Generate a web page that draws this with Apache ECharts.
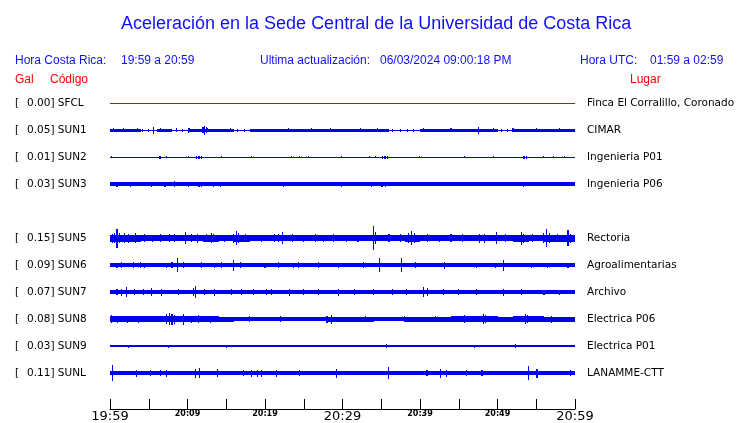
<!DOCTYPE html>
<html>
<head>
<meta charset="utf-8">
<script src="https://cdn.jsdelivr.net/npm/echarts@6/dist/echarts.min.js"></script>
<style>
  html, body { margin: 0; padding: 0; background: #fff; }
  #chart { width: 740px; height: 423px; }
</style>
</head>
<body>
<div id="chart"></div>
<script>
// estaciones (orden de arriba hacia abajo; SUN4 no aparece)
const codes  = ['SFCL', 'SUN1', 'SUN2', 'SUN3', 'SUN5', 'SUN6', 'SUN7', 'SUN8', 'SUN9', 'SUNL'];
const gals   = [0.00, 0.05, 0.01, 0.03, 0.15, 0.09, 0.07, 0.08, 0.03, 0.11];
const places = ['Finca El Corralillo, Coronado', 'CIMAR', 'Ingenieria P01', 'Ingenieria P06',
                'Rectoria', 'Agroalimentarias', 'Archivo', 'Electrica P06', 'Electrica P01', 'LANAMME-CTT'];
const slots  = [0, 1, 2, 3, 5, 6, 7, 8, 9, 10];

// eje de tiempo: minutos desde 19:59
const tickLabels = ['19:59', '20:09', '20:19', '20:29', '20:39', '20:49', '20:59'];

// envolvente base, bloques de 2 minutos (semi-amplitud)
const baseSFCL = [0.5,0.5,0.5,0.5,0.5,0.5,0.5,0.5,0.5,0.5,0.5,0.5,0.5,0.5,0.5,0.5,0.5,0.5,0.5,0.5,0.5,0.5,0.5,0.5,0.5,0.5,0.5,0.5,0.5,0.5];
const baseSUN1 = [1.5,1.5,0.5,1.5,0.5,1.5,1.5,1.5,0.5,1.5,1.5,1.5,1.5,1.5,1.5,1.5,1.5,1.5,0.5,0.5,1.5,1.5,1.5,1.5,1.5,0.5,1.5,1.5,1.5,1.5];
const baseSUN2 = [0.5,0.5,0.5,0.5,0.5,0.5,0.5,0.5,0.5,0.5,0.5,0.5,0.5,0.5,0.5,0.5,0.5,0.5,0.5,0.5,0.5,0.5,0.5,0.5,0.5,0.5,0.5,0.5,0.5,0.5];
const baseSUN3 = [1.8,1.8,1.8,1.8,1.8,1.8,1.8,1.8,1.8,1.8,1.8,1.8,1.8,1.8,1.8,1.8,1.8,1.8,1.8,1.8,1.8,1.8,1.8,1.8,1.8,1.8,1.8,1.8,1.8,1.8];
const baseSUN5 = [3.5,3.5,2.8,3.2,3.2,3.2,3.5,3.2,3.5,2.8,3.2,3.2,2.8,3.2,3.2,2.8,2.8,3.2,2.8,3.5,2.8,2.8,2.8,3.2,3.2,2.8,3.5,3.2,3.5,3.5];
const baseSUN6 = [1.8,1.8,1.8,1.8,1.8,1.8,1.8,1.8,1.8,1.8,1.8,1.8,1.8,1.8,1.8,1.8,1.8,1.8,1.8,1.8,1.8,1.8,1.8,1.8,1.8,1.8,1.8,1.8,1.8,1.8];
const baseSUN7 = [2.0,1.9,1.9,1.9,1.8,1.9,1.8,1.8,1.8,1.8,1.8,1.9,1.8,1.8,1.9,1.8,1.8,1.8,1.8,1.9,1.9,1.8,1.8,1.8,1.8,1.9,1.8,1.8,1.8,1.8];
const baseSUN8 = [3.0,2.8,2.8,3.0,3.2,3.0,2.8,2.5,2.2,2.2,2.2,2.2,2.2,2.3,2.5,2.5,2.5,2.3,2.2,2.5,2.5,2.5,2.8,3.0,2.8,2.5,3.0,2.8,2.5,2.5];
const baseSUN9 = [1.1,1.0,0.6,1.0,1.0,1.1,1.0,0.6,0.9,1.0,1.0,0.6,0.6,0.9,1.0,1.0,1.0,1.1,1.0,0.6,0.6,1.0,1.1,1.0,1.0,1.0,0.6,0.9,1.0,1.0];
const baseSUNL = [2.2,2.2,2.2,2.2,2.2,2.2,2.2,2.2,2.2,2.2,2.2,2.2,2.2,2.2,2.2,2.2,2.2,2.2,2.2,2.2,2.2,2.2,2.2,2.2,2.2,2.2,2.2,2.2,2.2,2.2];

// picos: [minuto, semi-amplitud]
const spikesSFCL = [];
const spikesSUN1 = [[0.5,1.8],[1.8,1.8],[3.5,1.8],[4.2,1.5],[5.0,1.5],[5.6,3.5],[6.5,1.8],[8.6,1.8],[9.4,1.5],[10.1,2.5],
                    [10.3,2.2],[12.0,3],[12.2,4.5],[12.4,3],[12.6,2],[15.5,1.8],[16.5,1.5],[17.3,1.5],[19,1.5],[23,1.8],
                    [26,1.8],[28.5,1.8],[32.3,2],[34.5,1.8],[36.5,1.5],[37.5,1.5],[38.4,1.5],[39.2,1.5],[40.5,1.8],
                    [44,1.8],[47.5,3.5],[49.5,1.8],[50.5,1.5],[51.3,1.5],[52,1.8],[55,1.8],[58,1.8]];
const spikesSUN2 = [[0.2,1],[6.45,1.5],[7.3,1],[10.1,1],[11.2,1.5],[11.4,1.5],[11.6,1.5],[11.8,1.5],[14.4,1],[18.3,1],
                    [23.4,1],[24.5,1],[25.6,1],[29.9,1],[33.5,1],[34.3,1],[35.2,1.5],[35.4,1.5],[35.6,1.5],[35.8,1.5],
                    [39.9,1],[45.8,1],[49.5,1],[53.3,1.5],[53.5,1.5],[53.7,1.5],[55.9,1],[57.2,1],[58.7,1]];
const spikesSUN3 = [[0.9,2.5],[2.7,2.5],[5.4,2.5],[7.1,2.5],[8.3,3],[10.1,2.5],[11.4,2.5],[11.6,2.5],[11.8,2.5],
                    [13.3,2.5],[14.2,2.5],[22.4,2.5],[24.9,2],[29.9,2.5],[31.8,2],[33.8,2.5],[35.1,2.5],[35.6,2.5],
                    [39.7,2],[47,2],[53.4,2.5],[54.8,2]];
const spikesSUN5 = [[0.3,4.5],[0.6,5],[0.9,9.5],[1.2,5],[1.9,5],[2.4,4.5],[3.3,5],[4.5,4],[5.5,3.5],[6.5,4],[7.7,4],
                    [8.3,4],[9.7,6],[10.5,4],[11.3,4.5],[12.4,4],[13.1,5],[13.4,4],[14.8,3.5],[15.9,4.5],[16.3,7],
                    [16.6,5],[17.5,4],[19.5,3.5],[21.2,4],[21.8,4],[22.2,6],[23.5,4],[25,3.5],[26.5,4],[27.5,3.5],
                    [28.8,4],[30.5,3.5],[32,3.5],[34,12],[34.3,6],[36,4],[37.5,4],[38.5,5],[38.9,7],[39.3,5],[41,4],
                    [42.5,3.5],[44,4],[45.5,4],[47.7,4.5],[48.3,4.5],[49.9,6],[51,4],[53.1,6.5],[53.4,4.5],[54.5,4],
                    [55.9,5],[56.3,9],[56.7,5],[57.8,4],[59.1,8],[59.4,4.5]];
const spikesSUN6 = [[0.9,2.5],[1.5,3],[3,3],[3.9,3],[4.5,2.5],[7.3,2.5],[8,3],[8.7,7],[9.5,3],[11.8,3],[13.5,2.5],
                    [14.4,3],[15.9,5.5],[16.8,3],[20,2.5],[21.7,3],[23.7,2.5],[24.3,3],[26.9,3],[29.5,2.5],[32.7,3],
                    [34.8,7],[37.6,7],[39.4,3],[43.2,3.5],[47.3,2.5],[49.7,2.5],[50.8,5.5],[54.4,2.5],[56.4,2.5],[59.1,2.5]];
const spikesSUN7 = [[0.9,3],[1.5,3.5],[2.1,5],[3.2,3],[4.3,3],[5.4,4],[6.7,3.5],[8.8,3],[10.8,4],[11,6],[12.2,3],
                    [13.5,3.5],[15.7,3],[17,3],[18.5,3],[20.2,3],[20.8,3],[23.2,3.5],[25,3],[26.9,3],[29.5,3.5],
                    [31.5,3],[34,3],[36.5,3],[38.3,3],[40.4,5],[41,4],[43,3],[45,3],[47.3,3],[50.8,3.5],[53.1,3],
                    [56,2.5],[58,2.5]];
const spikesSUN8 = [[0.2,4],[1,3.5],[2.2,3.5],[3.7,3.5],[5.8,3],[7.3,5],[7.7,6],[8,5.5],[8.3,4.5],[9.5,5.5],[10.5,3.5],
                    [11.4,4],[13,3.5],[18,3],[22,3],[28,3.5],[28.6,4.5],[33,3],[38,3],[42,3],[45.8,4],[48.2,5],
                    [48.5,4],[53.6,5],[53.9,4],[57,3.5]];
const spikesSUN9 = [[2.4,1.5],[7.6,1.5],[15,1.5],[35.7,2],[47,1.5],[52.3,2]];
const spikesSUNL = [[0.3,8],[3.4,3.5],[5.2,3],[6.5,3],[7.3,3.5],[11,4.5],[11.5,5],[13.9,4],[17.2,3],[18.3,3.5],
                    [19,3.5],[19.6,3.5],[21.5,3.5],[24.5,3],[29.2,4.5],[35.9,6],[40.9,3],[42.6,4.5],[43.4,3.5],
                    [46,3],[48,3],[54,7],[55.1,4.5],[59.4,3]];

const bases  = [baseSFCL, baseSUN1, baseSUN2, baseSUN3, baseSUN5, baseSUN6, baseSUN7, baseSUN8, baseSUN9, baseSUNL];
const spikes = [spikesSFCL, spikesSUN1, spikesSUN2, spikesSUN3, spikesSUN5, spikesSUN6, spikesSUN7, spikesSUN8, spikesSUN9, spikesSUNL];

const blue = '#0000f0';
const red = '#e00000';

// etiquetas por fila (la fila 4 queda vacia)
const leftCats = [], rightCats = [];
for (let k = 0; k <= 10; k++) {
    const i = slots.indexOf(k);
    leftCats.push(i < 0 ? '' : '{b|[}{v|' + gals[i].toFixed(2) + '] ' + codes[i] + '}');
    rightCats.push(i < 0 ? '' : places[i]);
}

function renderTrace(params, api) {
    const t0 = api.value(0), t1 = api.value(1), row = api.value(2), amp = api.value(3);
    const p0 = api.coord([t0, row]);
    const p1 = api.coord([t1, row]);
    // ajustar a pixel entero para trazos nitidos
    const x0 = Math.round(p0[0]);
    const x1 = Math.max(x0 + 1, Math.round(p1[0]));
    let y0 = Math.round(p0[1] - amp);
    let y1 = Math.round(p0[1] + amp);
    if (y1 - y0 < 1) { y0 = Math.floor(p0[1]); y1 = y0 + 1; }
    return {
        type: 'rect',
        shape: { x: x0, y: y0, width: x1 - x0, height: y1 - y0 },
        style: { fill: api.visual('color') }
    };
}

const series = codes.map((code, i) => {
    const data = [];
    bases[i].forEach((a, j) => data.push([j * 2, j * 2 + 2, slots[i], a]));
    spikes[i].forEach(s => data.push([s[0] - 0.07, s[0] + 0.07, slots[i], s[1]]));
    return {
        name: code,
        type: 'custom',
        renderItem: renderTrace,
        encode: { x: [0, 1], y: 2 },
        itemStyle: { color: i === 0 ? red : blue },
        data: data,
        silent: true,
        animation: false
    };
});

function txt(text, x, y, color, size) {
    return {
        type: 'text', x: x, y: y, silent: true,
        style: { text: text, fill: color, fontSize: size || 12, fontFamily: 'Liberation Sans', verticalAlign: 'middle' }
    };
}

const chart = echarts.init(document.getElementById('chart'));
chart.setOption({
    animation: false,
    title: {
        text: 'Aceleración en la Sede Central de la Universidad de Costa Rica',
        left: 116, top: 10,
        textStyle: { color: '#1010ff', fontSize: 18, fontWeight: 'normal', fontFamily: 'Liberation Sans' }
    },
    graphic: [
        txt('Hora Costa Rica:', 15, 61, '#1010ff'),
        txt('19:59 a 20:59', 121, 61, '#1010ff'),
        txt('Ultima actualización:', 260, 61, '#1010ff'),
        txt('06/03/2024 09:00:18 PM', 380, 61, '#1010ff'),
        txt('Hora UTC:', 580, 61, '#1010ff'),
        txt('01:59 a 02:59', 650, 61, '#1010ff'),
        txt('Gal', 15, 80, '#ff0000'),
        txt('Código', 50, 80, '#ff0000'),
        txt('Lugar', 630, 80, '#ff0000')
    ],
    grid: { left: 110, right: 165, top: 89.5, height: 297 },
    xAxis: {
        type: 'value', min: 0, max: 60, interval: 5,
        offset: 22.5,
        axisLine: { show: true, lineStyle: { color: '#000', width: 1 } },
        axisTick: { show: true, inside: true, length: 10, lineStyle: { color: '#000' } },
        splitLine: { show: false },
        axisLabel: {
            margin: 1,
            formatter: v => {
                if (v % 10) return '';
                const s = tickLabels[v / 10];
                return v % 30 === 0 ? '{big|' + s + '}' : '{small|' + s + '}';
            },
            rich: {
                big: { fontSize: 13, fontFamily: 'DejaVu Sans', color: '#000' },
                small: { fontSize: 8, fontFamily: 'DejaVu Sans', fontWeight: 'bold', color: '#000' }
            }
        }
    },
    yAxis: [{
        type: 'category', inverse: true, data: leftCats,
        axisLine: { show: false }, axisTick: { show: false }, splitLine: { show: false },
        axisLabel: {
            align: 'left', margin: 95, interval: 0,
            rich: {
                b: { width: 12, fontSize: 10.5, fontFamily: 'DejaVu Sans', color: '#000' },
                v: { fontSize: 10.5, fontFamily: 'DejaVu Sans', color: '#000' }
            }
        }
    }, {
        type: 'category', inverse: true, data: rightCats, position: 'right',
        axisLine: { show: false }, axisTick: { show: false }, splitLine: { show: false },
        axisLabel: { margin: 12, interval: 0, fontSize: 10.5, fontFamily: 'DejaVu Sans', color: '#000' }
    }],
    series: series
});
</script>
</body>
</html>
